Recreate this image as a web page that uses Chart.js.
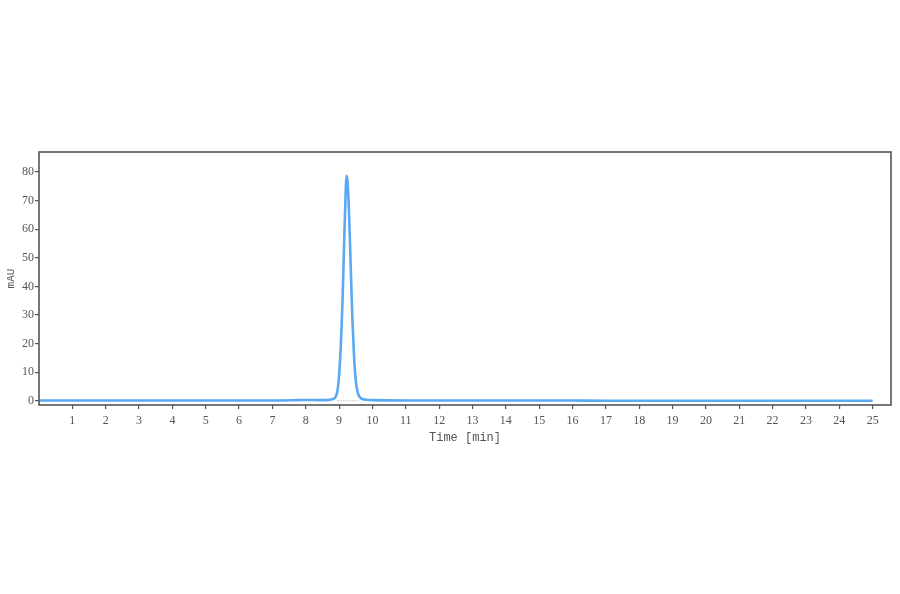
<!DOCTYPE html>
<html>
<head>
<meta charset="utf-8">
<script src="https://cdn.jsdelivr.net/npm/chart.js@4.4.1/dist/chart.umd.min.js"></script>
<style>
html,body{margin:0;padding:0;background:#fff;}
#wrap{width:900px;height:594px;position:relative;}
</style>
</head>
<body>
<div id="wrap"><canvas id="c" width="900" height="594"></canvas></div>
<script>
// Chromatogram trace (time in min, absorbance in mAU)
const timeMin = [0, 1, 2, 3, 4, 5, 6, 7, 7.6, 7.9, 8.1, 8.4, 8.7, 8.8, 8.85, 8.9, 8.95, 9.0, 9.05, 9.1, 9.15, 9.2, 9.22, 9.25, 9.3, 9.35, 9.4, 9.45, 9.5, 9.55, 9.6, 9.65, 9.7, 9.8, 10, 11, 12, 13, 14, 15, 16, 17, 18, 19, 20, 21, 22, 23, 24, 25];
const signalMAU = [0.1, 0.1, 0.1, 0.1, 0.1, 0.1, 0.1, 0.1, 0.15, 0.25, 0.25, 0.2, 0.3, 0.5, 0.8, 1.5, 3.5, 9, 19, 34, 55, 74, 78.7, 77, 65, 46, 28, 15, 7, 3.2, 1.6, 0.9, 0.6, 0.35, 0.2, 0.1, 0.1, 0.1, 0.1, 0.1, 0.05, 0.0, 0.0, 0.0, 0.0, 0.0, 0.0, 0.0, 0.0, 0.0];
// Integration baseline under the peak
const baseTime = [8.95, 9.6];
const baseMAU = [0.0, 0.0];
// Tick labels
const xTicks = [1, 2, 3, 4, 5, 6, 7, 8, 9, 10, 11, 12, 13, 14, 15, 16, 17, 18, 19, 20, 21, 22, 23, 24, 25];
const yTicks = [0, 10, 20, 30, 40, 50, 60, 70, 80];

const trace = timeMin.map((t, i) => ({x: t, y: signalMAU[i]}));
const base = baseTime.map((t, i) => ({x: t, y: baseMAU[i]}));

const boxPlugin = {
  id: 'box',
  afterDraw(chart) {
    const a = chart.chartArea, ctx = chart.ctx;
    ctx.save();
    ctx.strokeStyle = '#555';
    ctx.lineWidth = 1.6;
    ctx.strokeRect(a.left, a.top, a.right - a.left, a.bottom - a.top);
    ctx.restore();
  }
};

const font = {family: '"Liberation Serif", "DejaVu Serif", serif', size: 12};

new Chart(document.getElementById('c'), {
  type: 'scatter',
  data: {
    datasets: [
      {data: base, showLine: true, borderColor: '#999', borderWidth: 1, borderDash: [1, 2], pointRadius: 0},
      {data: trace, showLine: true, borderColor: '#5aa9f2', borderWidth: 2.6, pointRadius: 0, tension: 0.35, cubicInterpolationMode: 'monotone'}
    ]
  },
  options: {
    responsive: false,
    animation: false,
    events: [],
    layout: {padding: {top: 152, right: 9, bottom: 149, left: 0}},
    plugins: {legend: {display: false}, tooltip: {enabled: false}},
    scales: {
      x: {
        type: 'linear', min: 0, max: 25.55,
        afterBuildTicks(s) { s.ticks = xTicks.map(v => ({value: v})); },
        afterFit(s) { s.height = 40; },
        grid: {drawOnChartArea: false, drawTicks: true, tickLength: 4, color: '#555', lineWidth: 1.2},
        border: {display: false},
        ticks: {color: '#555', font: font, padding: 5, maxRotation: 0, autoSkip: false},
        title: {display: true, text: 'Time [min]', color: '#555', font: {family: '"Liberation Mono", "DejaVu Sans Mono", monospace', size: 12}, padding: {top: 0, bottom: 0}}
      },
      y: {
        type: 'linear', min: -1.5, max: 87,
        afterBuildTicks(s) { s.ticks = yTicks.map(v => ({value: v})); },
        afterFit(s) { s.width = 39; },
        grid: {drawOnChartArea: false, drawTicks: true, tickLength: 4, color: '#555', lineWidth: 1.2},
        border: {display: false},
        ticks: {color: '#555', font: font, padding: 1, autoSkip: false},
        title: {display: true, text: 'mAU', color: '#555', font: {family: '"Liberation Mono", "DejaVu Sans Mono", monospace', size: 11}, padding: {bottom: 0}}
      }
    }
  },
  plugins: [boxPlugin]
});
</script>
</body>
</html>
